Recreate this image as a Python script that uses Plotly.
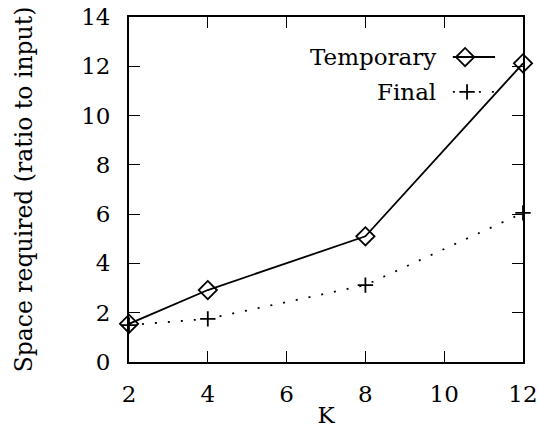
import plotly.graph_objects as go

K = [2, 4, 8, 12]
temporary = [1.55, 2.92, 5.1, 12.12]
final = [1.5, 1.75, 3.12, 6.05]
x_ticks = [2, 4, 6, 8, 10, 12]
y_ticks = [0, 2, 4, 6, 8, 10, 12, 14]

FONT = "DejaVu Serif"
BLACK = "black"
fig = go.Figure()

fig.add_trace(go.Scatter(
    x=K, y=temporary, mode="lines+markers", name="Temporary",
    line=dict(color=BLACK, width=1.8),
    marker=dict(symbol="diamond-open", size=14, color=BLACK, line=dict(width=1.8)),
    showlegend=False, cliponaxis=False))
fig.add_trace(go.Scatter(
    x=K, y=final, mode="lines+markers", name="Final",
    line=dict(color=BLACK, width=1.8, dash="2px,11px"),
    marker=dict(symbol="cross-thin-open", size=11, color=BLACK, line=dict(width=1.8, color=BLACK)),
    showlegend=False, cliponaxis=False))

# custom legend (symbol to the right of the text) on an overlay unit axis
leg_x = [0.822, 0.929]
fig.add_trace(go.Scatter(x=leg_x, y=[0.884, 0.884], xaxis="x2", yaxis="y2", mode="lines",
                         line=dict(color=BLACK, width=1.8), showlegend=False, hoverinfo="skip"))
fig.add_trace(go.Scatter(x=[0.853], y=[0.884], xaxis="x2", yaxis="y2", mode="markers",
                         marker=dict(symbol="diamond-open", size=14, color=BLACK, line=dict(width=1.8)),
                         showlegend=False, hoverinfo="skip"))
fig.add_trace(go.Scatter(x=leg_x, y=[0.783, 0.783], xaxis="x2", yaxis="y2", mode="lines",
                         line=dict(color=BLACK, width=1.8, dash="2px,11px"), showlegend=False, hoverinfo="skip"))
fig.add_trace(go.Scatter(x=[0.858], y=[0.783], xaxis="x2", yaxis="y2", mode="markers",
                         marker=dict(symbol="cross-thin-open", size=11, color=BLACK, line=dict(width=1.8, color=BLACK)),
                         showlegend=False, hoverinfo="skip"))

fig.add_annotation(x=0.785, y=0.884, xref="x2", yref="y2", text="Temporary", showarrow=False,
                   xanchor="right", yanchor="middle", font=dict(family=FONT, size=23, color=BLACK))
fig.add_annotation(x=0.785, y=0.783, xref="x2", yref="y2", text="Final", showarrow=False,
                   xanchor="right", yanchor="middle", font=dict(family=FONT, size=23, color=BLACK))

axis_common = dict(showline=True, linecolor=BLACK, linewidth=1.8, mirror="ticks",
                   ticks="inside", ticklen=11, tickwidth=1.4, tickcolor=BLACK,
                   showgrid=False, zeroline=False, automargin=False,
                   tickfont=dict(family=FONT, size=23, color=BLACK))

fig.update_layout(
    width=538, height=432,
    margin=dict(l=129, r=15, t=17, b=70, autoexpand=False),
    font=dict(family=FONT, color=BLACK),
    paper_bgcolor="white", plot_bgcolor="white",
    xaxis=dict(range=[2, 12], tickvals=x_ticks, ticktext=[str(v) for v in x_ticks],
               title=dict(text="K", font=dict(family=FONT, size=23, color=BLACK), standoff=1),
               ticklabelstandoff=10, **axis_common),
    yaxis=dict(range=[0, 14], tickvals=y_ticks, ticktext=[str(v) for v in y_ticks],
               title=dict(text="Space required (ratio to input)", font=dict(family=FONT, size=23.5, color=BLACK), standoff=42),
               ticklabelstandoff=12, **axis_common),
    xaxis2=dict(range=[0, 1], overlaying="x", visible=False, fixedrange=True),
    yaxis2=dict(range=[0, 1], overlaying="y", visible=False, fixedrange=True),
    showlegend=False,
)

fig.write_html("out.html", config={"displayModeBar": False},
               post_script="document.body.style.margin='0';")
